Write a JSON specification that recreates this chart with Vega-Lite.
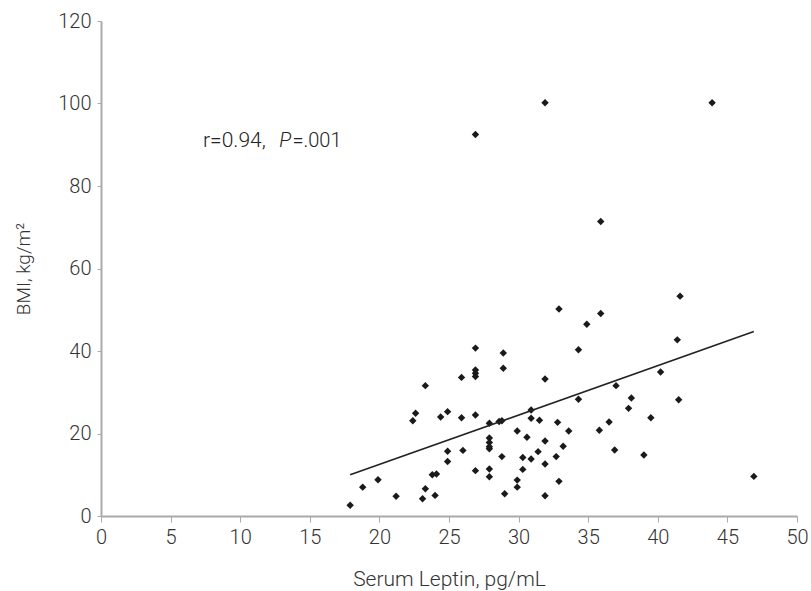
{
  "$schema": "https://vega.github.io/schema/vega-lite/v6.json",
  "autosize": "none",
  "width": 696,
  "height": 495,
  "padding": {"left": 101, "top": 21, "right": 14, "bottom": 75},
  "background": "white",
  "config": {
    "view": {"stroke": null},
    "axis": {
      "domainColor": "#aaaaaa",
      "domainWidth": 2,
      "tickColor": "#aaaaaa",
      "grid": false,
      "labelFlush": false,
      "labelFont": "Roboto",
      "labelFontWeight": 300,
      "labelFontSize": 20,
      "labelColor": "#333333",
      "titleFont": "Roboto",
      "titleFontWeight": 300,
      "titleColor": "#333333"
    }
  },
  "datasets": {
    "points": [
      {"leptin": 17.9, "bmi": 2.6},
      {"leptin": 18.8, "bmi": 7.0},
      {"leptin": 19.9, "bmi": 8.8},
      {"leptin": 21.2, "bmi": 4.8},
      {"leptin": 22.4, "bmi": 23.1},
      {"leptin": 22.6, "bmi": 24.9},
      {"leptin": 23.3, "bmi": 31.6},
      {"leptin": 23.1, "bmi": 4.2},
      {"leptin": 23.3, "bmi": 6.6},
      {"leptin": 23.8, "bmi": 10.0},
      {"leptin": 24.1, "bmi": 10.2},
      {"leptin": 24.0, "bmi": 5.0},
      {"leptin": 24.4, "bmi": 24.0},
      {"leptin": 24.9, "bmi": 25.3},
      {"leptin": 24.9, "bmi": 15.7},
      {"leptin": 24.9, "bmi": 13.2},
      {"leptin": 25.9, "bmi": 33.6},
      {"leptin": 25.9, "bmi": 23.8},
      {"leptin": 26.0, "bmi": 15.9},
      {"leptin": 26.9, "bmi": 40.7},
      {"leptin": 26.9, "bmi": 35.4},
      {"leptin": 26.9, "bmi": 34.6},
      {"leptin": 26.9, "bmi": 33.8},
      {"leptin": 26.9, "bmi": 24.5},
      {"leptin": 26.9, "bmi": 11.0},
      {"leptin": 26.9, "bmi": 92.5},
      {"leptin": 27.9, "bmi": 22.5},
      {"leptin": 27.9, "bmi": 18.9},
      {"leptin": 27.9, "bmi": 17.8},
      {"leptin": 27.9, "bmi": 16.8},
      {"leptin": 27.9, "bmi": 16.3},
      {"leptin": 27.9, "bmi": 11.4},
      {"leptin": 27.9, "bmi": 9.5},
      {"leptin": 28.6, "bmi": 22.9},
      {"leptin": 28.8, "bmi": 23.1},
      {"leptin": 28.9, "bmi": 39.5},
      {"leptin": 28.9, "bmi": 35.8},
      {"leptin": 28.8, "bmi": 14.4},
      {"leptin": 29.0, "bmi": 5.4},
      {"leptin": 29.9, "bmi": 20.6},
      {"leptin": 29.9, "bmi": 8.7},
      {"leptin": 29.9, "bmi": 7.0},
      {"leptin": 30.3, "bmi": 14.2},
      {"leptin": 30.3, "bmi": 11.3},
      {"leptin": 30.6, "bmi": 19.1},
      {"leptin": 30.9, "bmi": 25.7},
      {"leptin": 30.9, "bmi": 23.7},
      {"leptin": 30.9, "bmi": 13.8},
      {"leptin": 31.5, "bmi": 23.2},
      {"leptin": 31.4, "bmi": 15.6},
      {"leptin": 31.9, "bmi": 33.2},
      {"leptin": 31.9, "bmi": 18.2},
      {"leptin": 31.9, "bmi": 12.6},
      {"leptin": 31.9, "bmi": 4.9},
      {"leptin": 31.9, "bmi": 100.2},
      {"leptin": 32.8, "bmi": 22.7},
      {"leptin": 32.7, "bmi": 14.4},
      {"leptin": 33.2, "bmi": 16.9},
      {"leptin": 32.9, "bmi": 8.4},
      {"leptin": 32.9, "bmi": 50.2},
      {"leptin": 33.6, "bmi": 20.6},
      {"leptin": 34.3, "bmi": 40.3},
      {"leptin": 34.3, "bmi": 28.3},
      {"leptin": 34.9, "bmi": 46.5},
      {"leptin": 35.9, "bmi": 49.1},
      {"leptin": 35.9, "bmi": 71.4},
      {"leptin": 35.8, "bmi": 20.8},
      {"leptin": 36.5, "bmi": 22.8},
      {"leptin": 36.9, "bmi": 16.0},
      {"leptin": 37.0, "bmi": 31.6},
      {"leptin": 37.9, "bmi": 26.1},
      {"leptin": 38.1, "bmi": 28.6},
      {"leptin": 39.0, "bmi": 14.8},
      {"leptin": 39.5, "bmi": 23.8},
      {"leptin": 40.2, "bmi": 34.9},
      {"leptin": 41.4, "bmi": 42.7},
      {"leptin": 41.5, "bmi": 28.2},
      {"leptin": 41.6, "bmi": 53.3},
      {"leptin": 43.9, "bmi": 100.2},
      {"leptin": 46.9, "bmi": 9.6}
    ],
    "fit": [
      {"leptin": 17.9, "bmi": 10.0},
      {"leptin": 46.9, "bmi": 44.7}
    ]
  },
  "layer": [
    {
      "data": {"name": "points"},
      "mark": {"type": "point", "shape": "diamond", "filled": true, "color": "#1a1a1a", "size": 55, "opacity": 1},
      "encoding": {
        "x": {
          "field": "leptin", "type": "quantitative",
          "scale": {"domain": [0, 50], "nice": false, "zero": false},
          "axis": {"values": [0, 5, 10, 15, 20, 25, 30, 35, 40, 45, 50], "title": "Serum Leptin, pg/mL", "titleFontSize": 21, "tickSize": 6, "labelPadding": 5, "titlePadding": 21}
        },
        "y": {
          "field": "bmi", "type": "quantitative",
          "scale": {"domain": [0, 120], "nice": false},
          "axis": {"values": [0, 20, 40, 60, 80, 100, 120], "title": "BMI, kg/m²", "titleFontSize": 19, "tickSize": 4, "labelPadding": 6, "titlePadding": 24}
        }
      }
    },
    {
      "data": {"name": "fit"},
      "mark": {"type": "line", "color": "#222222", "strokeWidth": 1.6},
      "encoding": {
        "x": {"field": "leptin", "type": "quantitative"},
        "y": {"field": "bmi", "type": "quantitative"}
      }
    },
    {
      "data": {"values": [{}]},
      "mark": {"type": "text", "text": "r=0.94,", "align": "left", "baseline": "middle", "font": "Roboto", "fontWeight": 300, "fontSize": 21, "color": "#222222"},
      "encoding": {"x": {"datum": 7.33}, "y": {"datum": 91.0}}
    },
    {
      "data": {"values": [{}]},
      "mark": {"type": "text", "text": "P", "align": "left", "baseline": "middle", "font": "Roboto", "fontStyle": "italic", "fontWeight": 300, "fontSize": 20, "color": "#222222"},
      "encoding": {"x": {"datum": 12.8}, "y": {"datum": 91.0}}
    },
    {
      "data": {"values": [{}]},
      "mark": {"type": "text", "text": "=.001", "align": "left", "baseline": "middle", "font": "Roboto", "fontWeight": 300, "fontSize": 20, "color": "#222222"},
      "encoding": {"x": {"datum": 13.75}, "y": {"datum": 91.0}}
    }
  ]
}
